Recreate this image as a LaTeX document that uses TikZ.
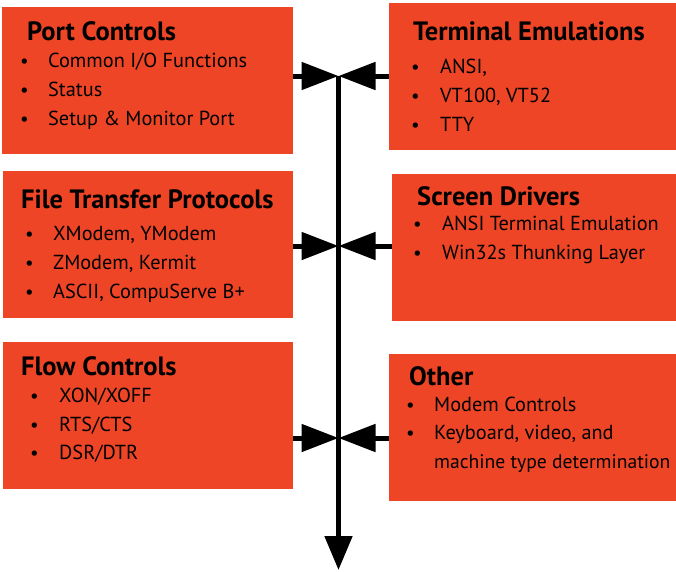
\documentclass[tikz,border=0pt]{standalone}
\usepackage{fontspec}
\setmainfont{PT Sans}
\usetikzlibrary{arrows.meta}
\definecolor{boxred}{RGB}{239,69,39}
\tikzset{
  box/.style={fill=boxred, draw=none, inner sep=0pt, anchor=north west},
  title/.style={anchor=base west, inner sep=0pt, font=\fontsize{26.5}{28}\selectfont\bfseries},
  item/.style={anchor=base west, inner sep=0pt, font=\fontsize{20.3}{22}\selectfont},
  dot/.style={anchor=base west, inner sep=0pt, font=\fontsize{19}{22}\selectfont},
  feed/.style={line width=5pt, -{Triangle[length=37pt,width=27pt]}},
  bus/.style={line width=5pt, -{Triangle[length=34pt,width=27pt]}}
}
\begin{document}
\begin{tikzpicture}[x=1pt,y=-1pt]
\useasboundingbox (0,0) rectangle (676,571);

% blocks
\node[box, minimum width=291pt, minimum height=147pt] (b1) at (2,7) {};
\node[box, minimum width=287pt, minimum height=147pt] (b2) at (389,3) {};
\node[box, minimum width=290pt, minimum height=147pt] (b3) at (3,171) {};
\node[box, minimum width=284pt, minimum height=147pt] (b4) at (392,174) {};
\node[box, minimum width=290pt, minimum height=147pt] (b5) at (3,342) {};
\node[box, minimum width=287pt, minimum height=147pt] (b6) at (389,354) {};

% Port Controls
\node[title] (t1) at (27,40) {Port Controls};
\node[dot] (d11) at (20,67) {•};  \node[item] (i11) at (48,67) {Common I/O Functions};
\node[dot] (d12) at (20,96) {•};  \node[item] (i12) at (48,96) {Status};
\node[dot] (d13) at (20,125) {•}; \node[item] (i13) at (48,125) {Setup \& Monitor Port};

% Terminal Emulations
\node[title] (t2) at (413,40) {Terminal Emulations};
\node[dot] (d21) at (411,73) {•};  \node[item] (i21) at (440,73) {ANSI,};
\node[dot] (d22) at (411,102) {•}; \node[item] (i22) at (440,102) {VT100, VT52};
\node[dot] (d23) at (411,131) {•}; \node[item] (i23) at (440,131) {TTY};

% File Transfer Protocols
\node[title] (t3) at (21,208) {File Transfer Protocols};
\node[dot] (d31) at (25,240) {•}; \node[item] (i31) at (53,240) {XModem, YModem};
\node[dot] (d32) at (25,269) {•}; \node[item] (i32) at (53,269) {ZModem, Kermit};
\node[dot] (d33) at (25,298) {•}; \node[item] (i33) at (53,298) {ASCII, CompuServe B+};

% Screen Drivers
\node[title] (t4) at (417,205) {Screen Drivers};
\node[dot] (d41) at (413,230) {•}; \node[item] (i41) at (442,230) {ANSI Terminal Emulation};
\node[dot] (d42) at (413,259) {•}; \node[item] (i42) at (442,259) {Win32s Thunking Layer};

% Flow Controls
\node[title] (t5) at (21,375) {Flow Controls};
\node[dot] (d51) at (30,402) {•}; \node[item] (i51) at (59,402) {XON/XOFF};
\node[dot] (d52) at (30,431) {•}; \node[item] (i52) at (59,431) {RTS/CTS};
\node[dot] (d53) at (30,459) {•}; \node[item] (i53) at (59,459) {DSR/DTR};

% Other
\node[title] (t6) at (409,385) {Other};
\node[dot] (d61) at (406,411) {•}; \node[item] (i61) at (434,411) {Modem Controls};
\node[dot] (d62) at (406,439) {•}; \node[item] (i62) at (434,439) {Keyboard, video, and};
\node[item, font=\fontsize{19.6}{22}\selectfont] (i63) at (434,468) {machine type determination};

% junctions on the bus
\coordinate (j1) at (338.5,76);
\coordinate (j2) at (338.5,246);
\coordinate (j3) at (338.5,438);
\coordinate (bend) at (338.5,570);

% vertical bus
\draw[bus] (j1) -- (bend);

% feeds into the bus
\draw[feed] (b1.east |- j1) -- (j1);
\draw[feed] (b2.west |- j1) -- (j1);
\draw[feed] (b3.east |- j2) -- (j2);
\draw[feed] (b4.west |- j2) -- (j2);
\draw[feed] (b5.east |- j3) -- (j3);
\draw[feed] (b6.west |- j3) -- (j3);
\end{tikzpicture}
\end{document}
